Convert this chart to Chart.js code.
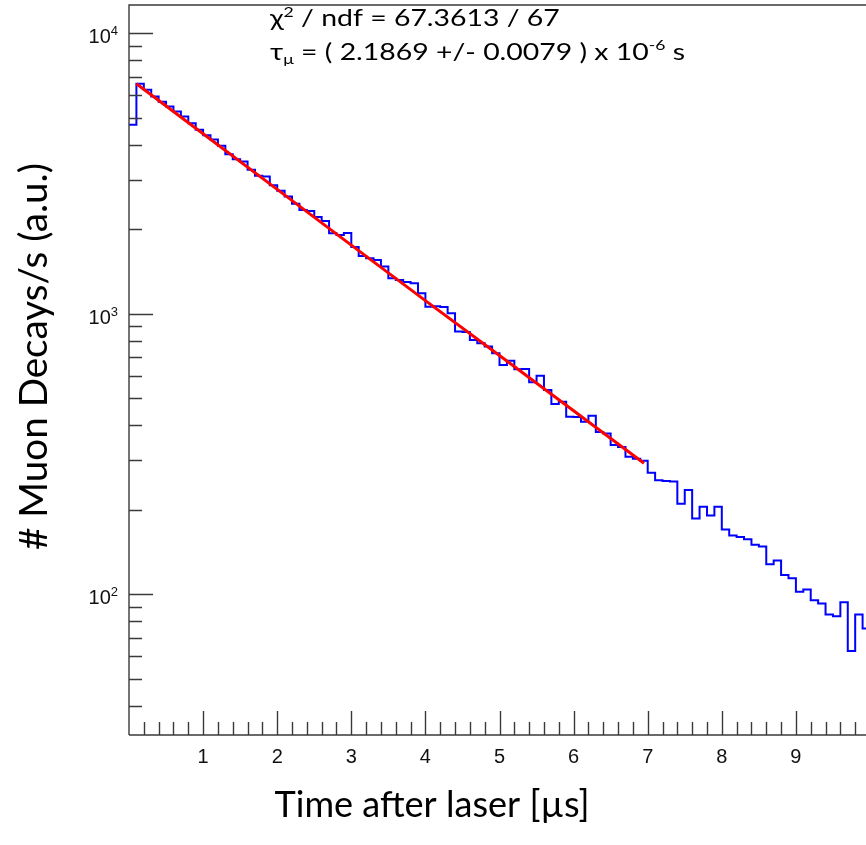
<!DOCTYPE html>
<html><head><meta charset="utf-8">
<script src="https://cdn.jsdelivr.net/npm/chart.js@4.4.1/dist/chart.umd.min.js"></script>
<style>
html,body{margin:0;padding:0;background:#fff;overflow:hidden;}
#wrap{position:relative;width:900px;height:845px;}
</style></head><body>
<div id="wrap"><canvas id="c" width="900" height="845"></canvas></div>
<script>
// ---- data ----
const binStart = 0;
const binWidth = 0.1;
const counts = [
  4710, 6600, 6280, 5940, 5690, 5475, 5255, 5045, 4770, 4521,
  4321, 4175, 3966, 3697, 3548, 3485, 3256, 3100, 3080, 2866,
  2740, 2615, 2462, 2343, 2324, 2212, 2141, 1935, 1908, 1940,
  1729, 1606, 1576, 1554, 1471, 1338, 1319, 1297, 1284, 1182,
  1059, 1062, 1057, 1003, 863, 860, 806, 784, 763, 722,
  656, 680, 633, 635, 569, 601, 534, 476, 485, 429,
  428, 412, 433, 379, 374, 340, 335, 309, 304, 299,
  271, 255, 253, 252, 210, 235, 186, 205, 191, 205,
  170, 162, 160, 157, 150, 148, 128, 132, 117, 114,
  102, 104, 95.2, 92.7, 84.7, 83.5, 93.7, 62.8, 84.7, 75.5
];
const fitX = [0.1, 1, 2, 3, 4, 5, 6, 6.95];
const fitY = [6600, 4375, 2772, 1755, 1113, 709, 451, 293];
const xTickLabels = [1, 2, 3, 4, 5, 6, 7, 8, 9];
const yDecades = [2, 3, 4];
const xRange = [0, 10];
const yRange = [31.5, 12590];
const xTitle = 'Time after laser [\u00b5s]';
const yTitle = '# Muon Decays/s (a.u.)';
const statLine1 = ['\u03c7', '2', ' / ndf = 67.3613 / 67'];
const statLine2 = ['\u03c4', '\u03bc', ' = ( 2.1869 +/- 0.0079 ) x 10', '-6', ' s'];

// ---- build datasets ----
const histPts = counts.map((v, k) => ({x: binStart + k * binWidth, y: v}));
histPts.push({x: binStart + counts.length * binWidth, y: counts[counts.length - 1]});
const fitPts = fitX.map((x, i) => ({x: x, y: fitY[i]}));

const W = 900, H = 845;
const AREA = {left: 129, top: 5, right: 870, bottom: 735};
const TF = 'Lato, "Open Sans", sans-serif';

function richWidth(ctx, parts, kinds, size) {
  let w = 0;
  parts.forEach((p, i) => {
    const s = kinds[i] === 'n' ? size : size * 0.62;
    ctx.font = s.toFixed(2) + 'px ' + TF;
    w += ctx.measureText(p).width;
  });
  return w;
}
function drawRich(ctx, x, y, parts, kinds, size, sx) {
  ctx.save();
  ctx.translate(x, y);
  ctx.scale(sx, 1);
  ctx.textAlign = 'left';
  ctx.textBaseline = 'alphabetic';
  ctx.fillStyle = '#000';
  let cx = 0;
  parts.forEach((p, i) => {
    const k = kinds[i];
    let s = size, dy = 0;
    if (k === 'sup') { s = size * 0.62; dy = -size * 0.40; }
    if (k === 'sub') { s = size * 0.62; dy = size * 0.20; }
    ctx.font = s.toFixed(2) + 'px ' + TF;
    ctx.fillText(p, cx, dy);
    cx += ctx.measureText(p).width;
  });
  ctx.restore();
}

const axesPlugin = {
  id: 'rootAxes',
  afterDatasetsDraw(chart) {
    const ctx = chart.ctx;
    const xs = chart.scales.x, ys = chart.scales.y;
    const ca = chart.chartArea;
    ctx.save();
    ctx.strokeStyle = '#3a3a3a';
    ctx.lineWidth = 1.4;
    // frame
    ctx.beginPath();
    ctx.moveTo(ca.left, ca.bottom); ctx.lineTo(ca.left, ca.top); ctx.lineTo(ca.right, ca.top);
    ctx.moveTo(ca.left, ca.bottom); ctx.lineTo(ca.right, ca.bottom);
    ctx.stroke();
    // y ticks
    ctx.beginPath();
    for (let d = 1; d <= 4; d++) {
      for (let m = 1; m <= 9; m++) {
        const v = m * Math.pow(10, d);
        if (v < yRange[0] || v > yRange[1]) continue;
        const py = Math.round(ys.getPixelForValue(v)) + 0.5;
        const len = (m === 1) ? 24 : 13;
        ctx.moveTo(ca.left, py); ctx.lineTo(ca.left + len, py);
      }
    }
    // x ticks
    for (let i = 1; i < 50; i++) {
      const v = i * 0.2;
      const px = Math.round(xs.getPixelForValue(v)) + 0.5;
      const len = (i % 5 === 0) ? 24 : 13;
      ctx.moveTo(px, ca.bottom); ctx.lineTo(px, ca.bottom - len);
    }
    ctx.stroke();
    // y labels
    ctx.fillStyle = '#111';
    ctx.textBaseline = 'alphabetic';
    yDecades.forEach(d => {
      const py = ys.getPixelForValue(Math.pow(10, d));
      ctx.font = '13px "Liberation Sans", Arial, sans-serif';
      const sw = ctx.measureText(String(d)).width;
      ctx.textAlign = 'right';
      ctx.fillText(String(d), 118, py + 2);
      ctx.font = '20px "Liberation Sans", Arial, sans-serif';
      ctx.fillText('10', 118 - sw, py + 10);
    });
    // x labels
    ctx.font = '20px "Liberation Sans", Arial, sans-serif';
    ctx.textAlign = 'center';
    ctx.textBaseline = 'top';
    xTickLabels.forEach(v => {
      ctx.fillText(String(v), xs.getPixelForValue(v), ca.bottom + 12);
    });
    // axis titles
    ctx.fillStyle = '#000';
    ctx.font = '30px ' + TF;
    let w = ctx.measureText(xTitle).width;
    let fs = 30 * 315 / w;
    ctx.font = fs.toFixed(2) + 'px ' + TF;
    ctx.textAlign = 'center';
    ctx.textBaseline = 'middle';
    ctx.fillText(xTitle, 432, 805);
    ctx.font = '30px ' + TF;
    w = ctx.measureText(yTitle).width;
    fs = 30 * 387 / w;
    ctx.font = fs.toFixed(2) + 'px ' + TF;
    ctx.save();
    ctx.translate(35, 356.5);
    ctx.rotate(-Math.PI / 2);
    ctx.fillText(yTitle, 0, 0);
    ctx.restore();
    // stats text: glyph height as in the reference, second line spanning 415 px
    const k1 = ['n', 'sup', 'n'], k2 = ['n', 'sub', 'n', 'sup', 'n'];
    const sz = 23;
    const sx = 415 / richWidth(ctx, statLine2, k2, sz);
    drawRich(ctx, 270, 26, statLine1, k1, sz, sx);
    drawRich(ctx, 270, 59.5, statLine2, k2, sz, sx);
    ctx.restore();
  }
};

new Chart(document.getElementById('c'), {
  type: 'line',
  data: {
    datasets: [
      {label: 'hist', data: histPts, borderColor: '#0000ff', borderWidth: 2, stepped: true,
       pointRadius: 0, fill: false, order: 2},
      {label: 'fit', data: fitPts, borderColor: '#ff0000', borderWidth: 3, tension: 0,
       pointRadius: 0, fill: false, order: 1}
    ]
  },
  options: {
    responsive: false, animation: false, events: [],
    layout: {padding: {left: AREA.left, top: AREA.top, right: W - AREA.right, bottom: H - AREA.bottom}},
    scales: {
      x: {type: 'linear', min: xRange[0], max: xRange[1], display: false},
      y: {type: 'logarithmic', min: yRange[0], max: yRange[1], display: false}
    },
    plugins: {legend: {display: false}, tooltip: {enabled: false}}
  },
  plugins: [axesPlugin]
});
</script>
</body></html>
